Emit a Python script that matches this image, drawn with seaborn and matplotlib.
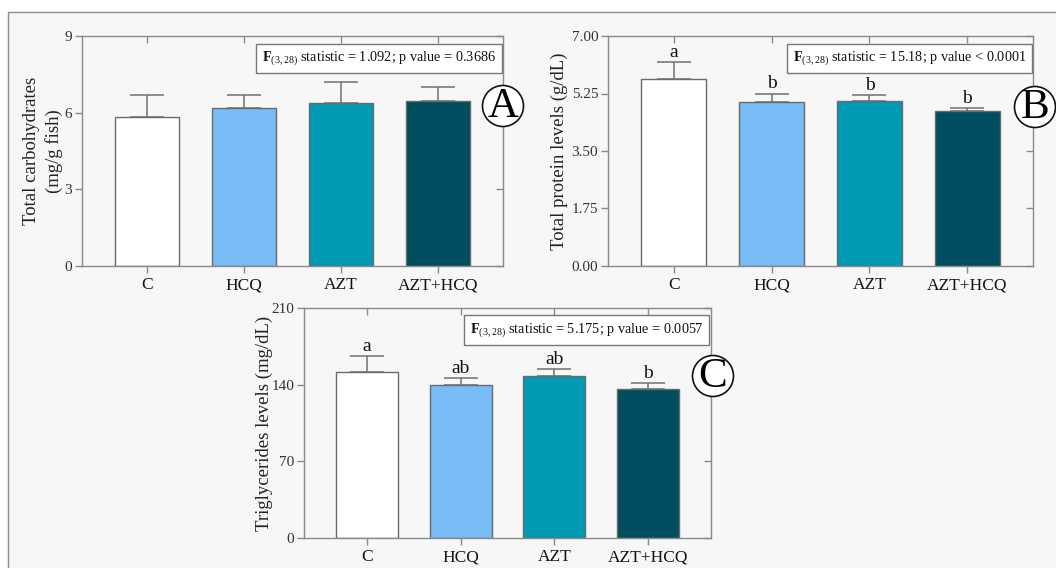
import numpy as np
import pandas as pd
import matplotlib
matplotlib.use("Agg")
import matplotlib.pyplot as plt
from matplotlib.patches import Rectangle, Circle
import seaborn as sns

# ---- data -------------------------------------------------------------
groups = ["C", "HCQ", "AZT", "AZT+HCQ"]
colors = ["#ffffff", "#78bdf8", "#009ab4", "#004d60"]

carb_mean = [5.85, 6.20, 6.36, 6.45]
carb_sd = [0.86, 0.51, 0.85, 0.55]

prot_mean = [5.69, 4.99, 5.02, 4.73]
prot_sd = [0.52, 0.25, 0.17, 0.08]
prot_letters = ["a", "b", "b", "b"]

tg_mean = [151.6, 139.3, 148.2, 136.0]
tg_sd = [14.6, 6.8, 5.8, 5.5]
tg_letters = ["a", "ab", "ab", "b"]

carb_ticks = [0, 3, 6, 9]
prot_ticks = [0.00, 1.75, 3.50, 5.25, 7.00]
tg_ticks = [0, 70, 140, 210]

carb_stat = r"$\mathbf{F}_{(3,28)}$ statistic = 1.092; p value = 0.3686"
prot_stat = r"$\mathbf{F}_{(3,28)}$ statistic = 15.18; p value < 0.0001"
tg_stat = r"$\mathbf{F}_{(3,28)}$ statistic = 5.175; p value = 0.0057"

# ---- style ------------------------------------------------------------
sns.set_theme(style="ticks")
plt.rcParams["font.family"] = ["Liberation Serif", "DejaVu Serif"]
plt.rcParams["mathtext.fontset"] = "custom"
plt.rcParams["mathtext.rm"] = "Liberation Serif"
plt.rcParams["mathtext.bf"] = "Liberation Serif:bold"
plt.rcParams["mathtext.it"] = "Liberation Serif:italic"

BG = "#f7f7f7"
SPINE = "#8a8a8a"
W, H = 1056, 568

fig = plt.figure(figsize=(W / 100, H / 100), dpi=100, facecolor="white")
fig.patches.append(Rectangle((8 / W, -0.01), 1.0, 1 - 12 / H + 0.01,
                             transform=fig.transFigure, facecolor=BG,
                             edgecolor="#8c8c8c", linewidth=1.0, zorder=-5))


def px_axes(left, top, right, bottom):
    return fig.add_axes([left / W, 1 - bottom / H, (right - left) / W, (bottom - top) / H])


def panel(ax, means, sds, ticks, ylabel, stat, letters=None, tick_fmt="{:g}",
          box_right=0.983, box_y=0.903, labelpad=6):
    df = pd.DataFrame({"group": groups, "value": means})
    sns.barplot(data=df, x="group", y="value", hue="group", palette=colors,
                order=groups, hue_order=groups, width=0.66, saturation=1,
                edgecolor="#6a6a6a", linewidth=1.0, errorbar=None,
                legend=False, ax=ax, zorder=2)
    x = np.arange(len(groups))
    ax.errorbar(x, means, yerr=[np.zeros(len(sds)), sds], fmt="none",
                ecolor="#707070", elinewidth=1.1, capsize=12.5, capthick=1.1,
                zorder=1)
    ax.set_facecolor(BG)
    ax.set_xlim(-0.67, 3.67)
    ax.set_ylim(ticks[0], ticks[-1])
    ax.set_yticks(ticks)
    ax.set_yticklabels([tick_fmt.format(t) for t in ticks])
    ax.set_xlabel("")
    ax.set_ylabel(ylabel, fontsize=13.5, color="#222222", labelpad=labelpad,
                  linespacing=1.35)
    for s in ax.spines.values():
        s.set_visible(True)
        s.set_color(SPINE)
        s.set_linewidth(1.0)
    ax.tick_params(axis="y", direction="out", length=5, width=1, color=SPINE,
                   labelsize=11, labelcolor="#333333", pad=2)
    ax.tick_params(axis="x", direction="out", length=5, width=1, color=SPINE,
                   labelsize=12.5, labelcolor="#111111", pad=3)
    # inward mirror ticks on top and right
    top = ax.secondary_xaxis("top")
    top.set_xticks(x)
    top.tick_params(direction="in", length=5, width=1, color=SPINE,
                    labeltop=False)
    top.spines["top"].set_visible(False)
    right = ax.secondary_yaxis("right")
    right.set_yticks(ticks)
    right.tick_params(direction="in", length=5, width=1, color=SPINE,
                      labelright=False)
    right.spines["right"].set_visible(False)

    ax.text(box_right, box_y, stat, transform=ax.transAxes, ha="right",
            va="center", fontsize=10.3, color="#111111", zorder=5,
            bbox=dict(boxstyle="square,pad=0.4", facecolor="white",
                      edgecolor="#777777", linewidth=1.0))
    if letters is not None:
        for xi, m, s, lab in zip(x, means, sds, letters):
            ax.annotate(lab, (xi, m + s), xytext=(0, 1), textcoords="offset points",
                        ha="center", va="bottom", fontsize=14, color="#111111")


def badge(cx, cy, letter):
    cxi, cyi = cx / 100, (H - cy) / 100
    fig.patches.append(Circle((cxi, cyi), 0.205, transform=fig.dpi_scale_trans,
                              facecolor="white", edgecolor="#111111",
                              linewidth=1.2, zorder=10))
    fig.text(cx / W, 1 - (cy + 1) / H, letter, ha="center", va="center",
             fontsize=31, color="#000000", zorder=11)


axA = px_axes(82, 36, 503, 266)
panel(axA, carb_mean, carb_sd, carb_ticks,
      "Total carbohydrates\n(mg/g fish)", carb_stat, labelpad=1)

axB = px_axes(608, 36, 1033, 266)
panel(axB, prot_mean, prot_sd, prot_ticks, "Total protein levels (g/dL)",
      prot_stat, letters=prot_letters, tick_fmt="{:.2f}", box_right=0.984,
      labelpad=2.5)

axC = px_axes(304, 308, 711, 538)
panel(axC, tg_mean, tg_sd, tg_ticks, "Triglycerides levels (mg/dL)",
      tg_stat, letters=tg_letters, box_right=0.98, box_y=0.904, labelpad=-1)

badge(503, 106, "A")
badge(1035, 107, "B")
badge(713, 376, "C")

fig.savefig("out.png", dpi=100, facecolor="white")
